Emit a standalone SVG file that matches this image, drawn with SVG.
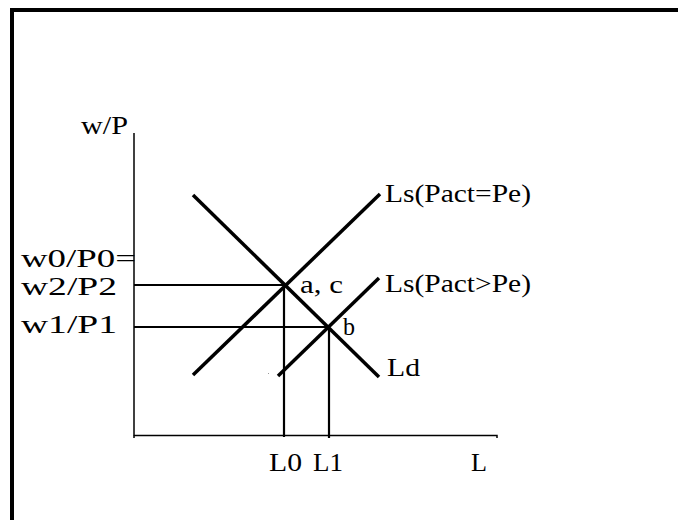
<svg xmlns="http://www.w3.org/2000/svg" width="678" height="520" viewBox="0 0 678 520">
<style>
.t{font-family:"Liberation Serif","Times New Roman",serif;font-size:25px;fill:#000}
.curve{stroke:#000;stroke-width:3.5;fill:none;stroke-linecap:butt}
.guide{stroke:#000;stroke-width:2.2;fill:none}
.axis{stroke:#000;stroke-width:1.5;fill:none}
</style>
<rect x="0" y="0" width="678" height="520" fill="#fff"/>
<path d="M12,520 V10 H678" stroke="#000" stroke-width="4" fill="none" stroke-linejoin="miter"/>
<g id="axes">
<path class="axis" d="M134,133 V436"/>
<path class="axis" d="M134,435.5 H497 V438"/>
<path class="axis" d="M134,435.5 V438"/>
</g>
<g id="connectors">
<path class="guide" d="M134,285 H284"/>
<path class="guide" d="M134,327 H329"/>
<path class="guide" d="M284,285 V437"/>
<path class="guide" d="M329,327 V438"/>
</g>
<g id="Ld">
<path class="curve" d="M193,195 L379,377"/>
<text class="t" x="387" y="376" textLength="33" lengthAdjust="spacingAndGlyphs">Ld</text>
</g>
<g id="Ls1">
<path class="curve" d="M193,375 L380,194"/>
<text class="t" x="385" y="202" textLength="146" lengthAdjust="spacingAndGlyphs">Ls(Pact=Pe)</text>
</g>
<g id="Ls2">
<path class="curve" d="M278,376 L379,278"/>
<text class="t" x="385" y="292" textLength="146" lengthAdjust="spacingAndGlyphs">Ls(Pact&gt;Pe)</text>
</g>
<rect x="268" y="373" width="1" height="1" fill="#999"/>
<g id="labels">
<text class="t" x="81" y="134" textLength="47" lengthAdjust="spacingAndGlyphs">w/P</text>
<text class="t" x="21" y="267" textLength="115" lengthAdjust="spacingAndGlyphs">w0/P0=</text>
<text class="t" x="21" y="295" textLength="96" lengthAdjust="spacingAndGlyphs">w2/P2</text>
<text class="t" x="21" y="333" textLength="96" lengthAdjust="spacingAndGlyphs">w1/P1</text>
<text class="t" x="300" y="293" textLength="43" lengthAdjust="spacingAndGlyphs">a, c</text>
<text class="t" x="343" y="335" textLength="12" lengthAdjust="spacingAndGlyphs">b</text>
<text class="t" x="269" y="471" textLength="33" lengthAdjust="spacingAndGlyphs">L0</text>
<text class="t" x="313" y="471" textLength="30" lengthAdjust="spacingAndGlyphs">L1</text>
<text class="t" x="471" y="471" textLength="16" lengthAdjust="spacingAndGlyphs">L</text>
</g>
</svg>
